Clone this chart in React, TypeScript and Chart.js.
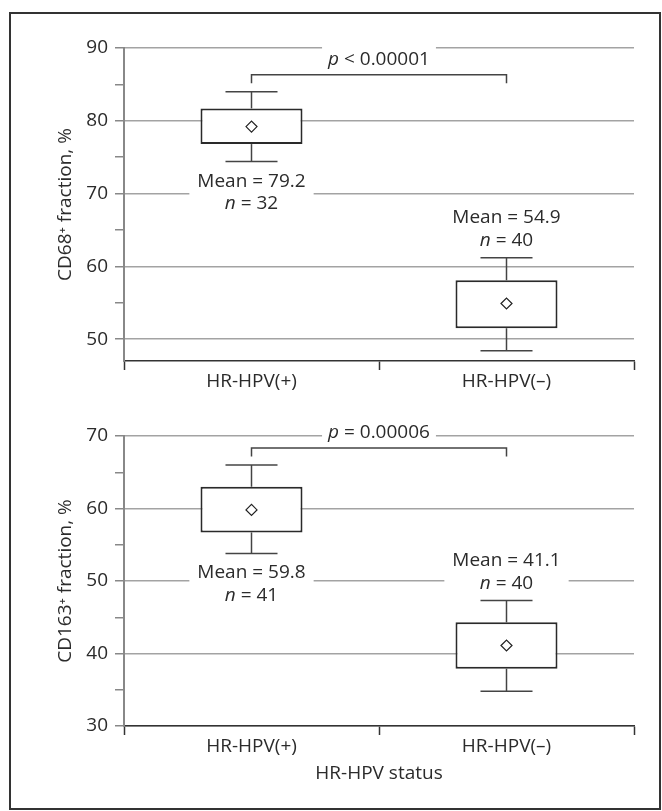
import React, { useEffect, useRef } from 'react';
import { Chart, registerables } from 'chart.js';

Chart.register(...registerables);

const FONT = "'Open Sans', 'DejaVu Sans', sans-serif";
const FS = 19;
const TEXT = '#2b2b2b';

// ---- data ----
const categories = ['HR-HPV(+)', 'HR-HPV(–)'];

const cd68Lo = [74.4, 48.4];
const cd68Q1 = [76.8, 51.5];
const cd68Q3 = [81.7, 58.1];
const cd68Hi = [84.0, 61.2];
const cd68Mean = [79.2, 54.9];
const cd68N = [32, 40];
const cd68PRel = '<';
const cd68PVal = '0.00001';
const cd68Ticks = [50, 55, 60, 65, 70, 75, 80, 85, 90];

const cd163Lo = [53.8, 34.8];
const cd163Q1 = [56.7, 37.9];
const cd163Q3 = [63.0, 44.3];
const cd163Hi = [66.0, 47.3];
const cd163Mean = [59.8, 41.1];
const cd163N = [41, 40];
const cd163PRel = '=';
const cd163PVal = '0.00006';
const cd163Ticks = [30, 35, 40, 45, 50, 55, 60, 65, 70];

const labelSide = ['below', 'above'];

type Group = {
  lo: number[]; q1: number[]; q3: number[]; hi: number[]; mean: number[]; n: number[];
  pRel: string; pVal: string; ticks: number[]; min: number; max: number;
  yTitle: string; xTitle?: string;
  padTop: number; padBottom: number; xHeight: number;
};

function drawMixed(ctx: CanvasRenderingContext2D, italicPart: string, rest: string, cx: number, base: number) {
  ctx.font = `italic ${FS}px ${FONT}`;
  const w1 = ctx.measureText(italicPart).width;
  ctx.font = `${FS}px ${FONT}`;
  const w2 = ctx.measureText(rest).width;
  const start = cx - (w1 + w2) / 2;
  ctx.textAlign = 'left';
  ctx.textBaseline = 'alphabetic';
  ctx.font = `italic ${FS}px ${FONT}`;
  ctx.fillText(italicPart, start, base);
  ctx.font = `${FS}px ${FONT}`;
  ctx.fillText(rest, start + w1, base);
  return w1 + w2;
}

function makeAnnotations(d: Group) {
  return {
    id: 'boxAnnotations',
    beforeDatasetsDraw(chart: any) {
      const { ctx } = chart;
      const x = chart.scales.x, y = chart.scales.y;
      const catW = x.getPixelForValue(1) - x.getPixelForValue(0);
      const capHalf = catW * 0.102;
      ctx.save();
      ctx.strokeStyle = '#444';
      ctx.lineWidth = 1.5;
      d.lo.forEach((_, i) => {
        const cx = x.getPixelForValue(i);
        const pairs: [number, number][] = [[d.q3[i], d.hi[i]], [d.q1[i], d.lo[i]]];
        for (const [a, b] of pairs) {
          ctx.beginPath();
          ctx.moveTo(cx, y.getPixelForValue(a));
          ctx.lineTo(cx, y.getPixelForValue(b));
          ctx.stroke();
          ctx.beginPath();
          ctx.moveTo(cx - capHalf, y.getPixelForValue(b));
          ctx.lineTo(cx + capHalf, y.getPixelForValue(b));
          ctx.stroke();
        }
      });
      ctx.restore();
    },
    afterDatasetsDraw(chart: any) {
      const { ctx } = chart;
      const x = chart.scales.x, y = chart.scales.y;
      ctx.save();
      ctx.fillStyle = TEXT;
      // mean / n labels
      d.mean.forEach((m, i) => {
        const cx = x.getPixelForValue(i);
        const meanText = `Mean = ${m.toFixed(1)}`;
        let meanBase: number, nBase: number;
        if (labelSide[i] === 'below') {
          meanBase = y.getPixelForValue(d.lo[i]) + 25;
          nBase = meanBase + 22.5;
        } else {
          nBase = y.getPixelForValue(d.hi[i]) - 12;
          meanBase = nBase - 22.5;
        }
        ctx.font = `${FS}px ${FONT}`;
        const w = ctx.measureText(meanText).width;
        ctx.fillStyle = '#fff';
        ctx.fillRect(cx - w / 2 - 8, meanBase - 16, w + 16, nBase - meanBase + 21);
        ctx.fillStyle = TEXT;
        ctx.textAlign = 'center';
        ctx.textBaseline = 'alphabetic';
        ctx.fillText(meanText, cx, meanBase);
        drawMixed(ctx, 'n', ` = ${d.n[i]}`, cx, nBase);
      });
      // bracket
      const x0 = x.getPixelForValue(0), x1 = x.getPixelForValue(1);
      const top = Math.min(...d.hi.map((v) => y.getPixelForValue(v))) - 17;
      ctx.strokeStyle = '#444';
      ctx.lineWidth = 1.5;
      ctx.beginPath();
      ctx.moveTo(x0, top + 8.5);
      ctx.lineTo(x0, top);
      ctx.lineTo(x1, top);
      ctx.lineTo(x1, top + 8.5);
      ctx.stroke();
      // p text
      const pBase = top - 10;
      const rest = ` ${d.pRel} ${d.pVal}`;
      ctx.font = `italic ${FS}px ${FONT}`;
      const w1 = ctx.measureText('p').width;
      ctx.font = `${FS}px ${FONT}`;
      const w2 = ctx.measureText(rest).width;
      const cx = (x0 + x1) / 2;
      ctx.fillStyle = '#fff';
      ctx.fillRect(cx - (w1 + w2) / 2 - 6, pBase - 19, w1 + w2 + 12, 24);
      ctx.fillStyle = TEXT;
      drawMixed(ctx, 'p', rest, cx, pBase);
      ctx.restore();
    },
  };
}

function buildConfig(d: Group): any {
  return {
    type: 'bar',
    data: {
      labels: categories,
      datasets: [
        {
          type: 'line',
          data: d.mean,
          showLine: false,
          pointStyle: 'rectRot',
          pointRadius: 5.5,
          pointBorderWidth: 1.2,
          pointBorderColor: '#222',
          pointBackgroundColor: '#fff',
          order: 0,
        },
        {
          type: 'bar',
          data: d.q1.map((v, i) => [v, d.q3[i]]),
          backgroundColor: '#fff',
          borderColor: '#2a2a2a',
          borderWidth: 2,
          borderSkipped: false,
          barPercentage: 0.4,
          categoryPercentage: 1,
          order: 1,
        },
      ],
    },
    options: {
      responsive: false,
      animation: false,
      devicePixelRatio: 1,
      layout: { padding: { left: 44, right: 28, top: d.padTop, bottom: d.padBottom } },
      plugins: { legend: { display: false }, tooltip: { enabled: false } },
      scales: {
        x: {
          type: 'category',
          offset: true,
          grid: { offset: true, drawOnChartArea: false, tickLength: 9, tickColor: '#333', tickWidth: 1.5 },
          border: { color: '#333', width: 1.5 },
          ticks: { color: TEXT, font: { family: FONT, size: FS }, padding: 0, maxRotation: 0 },
          title: d.xTitle
            ? { display: true, text: d.xTitle, color: TEXT, font: { family: FONT, size: FS }, padding: { top: 0, bottom: 0 } }
            : { display: false },
          afterFit: (s: any) => { s.height = d.xHeight; },
        },
        y: {
          min: d.min,
          max: d.max,
          afterBuildTicks: (s: any) => { s.ticks = d.ticks.map((value) => ({ value })); },
          grid: {
            color: (c: any) => (c.tick && c.tick.value % 10 === 0 ? '#a3a3a3' : 'rgba(0,0,0,0)'),
            tickColor: '#888',
            tickLength: 9,
            lineWidth: 1.5,
          },
          border: { color: '#888', width: 2 },
          ticks: {
            color: TEXT,
            font: { family: FONT, size: FS },
            padding: 7,
            callback: (v: any) => (v % 10 === 0 ? String(v) : ''),
          },
          title: { display: true, text: d.yTitle, color: TEXT, font: { family: FONT, size: FS }, padding: { top: 10, bottom: 0 } },
          afterFit: (s: any) => { s.width = 80; },
        },
      },
    },
    plugins: [makeAnnotations(d)],
  };
}

const groupA: Group = {
  lo: cd68Lo, q1: cd68Q1, q3: cd68Q3, hi: cd68Hi, mean: cd68Mean, n: cd68N,
  pRel: cd68PRel, pVal: cd68PVal, ticks: cd68Ticks, min: 47, max: 90,
  yTitle: 'CD68⁺ fraction, %', padTop: 48, padBottom: 0, xHeight: 39,
};

const groupB: Group = {
  lo: cd163Lo, q1: cd163Q1, q3: cd163Q3, hi: cd163Hi, mean: cd163Mean, n: cd163N,
  pRel: cd163PRel, pVal: cd163PVal, ticks: cd163Ticks, min: 30, max: 70,
  yTitle: 'CD163⁺ fraction, %', xTitle: 'HR-HPV status', padTop: 36, padBottom: 26, xHeight: 59,
};

export default function App() {
  const refA = useRef<HTMLCanvasElement>(null);
  const refB = useRef<HTMLCanvasElement>(null);
  useEffect(() => {
    const a = new Chart(refA.current as HTMLCanvasElement, buildConfig(groupA));
    const b = new Chart(refB.current as HTMLCanvasElement, buildConfig(groupB));
    return () => { a.destroy(); b.destroy(); };
  }, []);
  return (
    <div style={{ position: 'absolute', left: 0, top: 0, width: 662, height: 811, background: '#fff' }}>
      <div style={{ position: 'absolute', left: 9, top: 12, width: 652, height: 798, border: '2px solid #333', boxSizing: 'border-box' }} />
      <canvas ref={refA} width={662} height={400} style={{ position: 'absolute', left: 0, top: 0 }} />
      <canvas ref={refB} width={662} height={411} style={{ position: 'absolute', left: 0, top: 400 }} />
    </div>
  );
}
